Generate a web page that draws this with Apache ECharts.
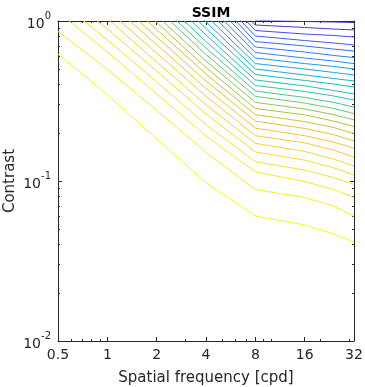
<!DOCTYPE html>
<html><head><meta charset="utf-8">
<script src="https://cdn.jsdelivr.net/npm/echarts@6/dist/echarts.min.js"></script>
<style>html,body{margin:0;padding:0;background:#fff}#c{width:365px;height:387px}</style>
</head><body><div id="c"></div>
<script>
// Spatial frequencies (cpd) at which each contour line is sampled
const freqs = [0.5, 1, 2, 4, 8, 16, 24, 32];
// Axis ticks
const xTicks = [0.5, 1, 2, 4, 8, 16, 32];
const xMinorTicks = [0.6, 0.7, 0.8, 0.9, 3, 5, 6, 7, 9, 10, 20, 30];
const yTicks = [0.01, 0.1, 1];
const yTickExponents = ['-2', '-1', '0'];
const yMinorTicks = [0.02, 0.03, 0.04, 0.05, 0.06, 0.07, 0.08, 0.09, 0.2, 0.3, 0.4, 0.5, 0.6, 0.7, 0.8, 0.9];
// Contour lines (contrast at each frequency), lowest (yellow) to highest (blue)
const contour01 = [0.622, 0.345, 0.183, 0.0972, 0.0604, 0.0531, 0.0466, 0.0416];
const contour02 = [0.860, 0.498, 0.276, 0.151, 0.0885, 0.0788, 0.0698, 0.0600];
const contour03 = [1.14, 0.640, 0.350, 0.191, 0.114, 0.0993, 0.0885, 0.0788];
const contour04 = [1.35, 0.761, 0.416, 0.225, 0.132, 0.117, 0.105, 0.0951];
const contour05 = [1.58, 0.891, 0.487, 0.262, 0.152, 0.135, 0.121, 0.109];
const contour06 = [1.86, 1.03, 0.554, 0.299, 0.172, 0.153, 0.137, 0.124];
const contour07 = [2.11, 1.17, 0.631, 0.338, 0.192, 0.173, 0.156, 0.141];
const contour08 = [2.39, 1.32, 0.713, 0.379, 0.214, 0.192, 0.175, 0.160];
const contour09 = [2.68, 1.49, 0.794, 0.422, 0.237, 0.213, 0.195, 0.178];
const contour10 = [3.05, 1.67, 0.885, 0.467, 0.260, 0.235, 0.216, 0.198];
const contour11 = [3.37, 1.84, 0.979, 0.512, 0.284, 0.259, 0.237, 0.219];
const contour12 = [3.76, 2.05, 1.08, 0.562, 0.310, 0.282, 0.260, 0.241];
const contour13 = [4.25, 2.29, 1.20, 0.617, 0.338, 0.307, 0.284, 0.264];
const contour14 = [4.66, 2.51, 1.31, 0.678, 0.365, 0.333, 0.310, 0.290];
const contour15 = [5.35, 2.84, 1.46, 0.744, 0.395, 0.363, 0.340, 0.321];
const contour16 = [5.87, 3.12, 1.61, 0.818, 0.428, 0.393, 0.368, 0.350];
const contour17 = [6.54, 3.47, 1.79, 0.898, 0.463, 0.425, 0.404, 0.387];
const contour18 = [7.39, 3.87, 1.97, 0.986, 0.501, 0.460, 0.437, 0.422];
const contour19 = [8.12, 4.25, 2.16, 1.08, 0.542, 0.501, 0.477, 0.460];
const contour20 = [9.04, 4.73, 2.41, 1.19, 0.587, 0.542, 0.520, 0.501];
const contour21 = [10.0, 5.23, 2.64, 1.31, 0.635, 0.587, 0.562, 0.542];
const contour22 = [10.9, 5.70, 2.90, 1.43, 0.688, 0.640, 0.609, 0.591];
const contour23 = [12.1, 6.31, 3.23, 1.57, 0.744, 0.698, 0.668, 0.649];
const contour24 = [13.1, 6.88, 3.50, 1.70, 0.806, 0.755, 0.729, 0.708];
const contour25 = [14.4, 7.55, 3.84, 1.87, 0.872, 0.829, 0.812, 0.794];
const contour26 = [15.6, 8.18, 4.16, 2.02, 0.944, 0.911, 0.891, 0.879];
const contour27 = [16.8, 8.79, 4.47, 2.18, 1.01, 0.993, 0.986, 0.979];

const contours = [contour01, contour02, contour03, contour04, contour05, contour06, contour07,
  contour08, contour09, contour10, contour11, contour12, contour13, contour14, contour15,
  contour16, contour17, contour18, contour19, contour20, contour21, contour22, contour23,
  contour24, contour25, contour26, contour27];

// parula colormap anchor colours
const parula = ['#3e26a8', '#4852f4', '#2e87f7', '#12b1d6', '#37c897', '#abc739', '#fec338', '#f5e127', '#f9fb0e'];
function hex2rgb(h) { return [1, 3, 5].map(i => parseInt(h.substr(i, 2), 16)); }
function cmap(t) {
  const n = parula.length - 1;
  const p = Math.min(Math.max(t, 0), 1) * n;
  const i = Math.min(Math.floor(p), n - 1);
  const f = p - i;
  const a = hex2rgb(parula[i]), b = hex2rgb(parula[i + 1]);
  const c = a.map((v, k) => Math.round(v + (b[k] - v) * f));
  return 'rgb(' + c.join(',') + ')';
}

const axisColor = '#262626';
const font = 'DejaVu Sans';
const N = contours.length;

const series = contours.map((arr, i) => ({
  type: 'line',
  xAxisIndex: 0,
  yAxisIndex: 0,
  data: freqs.map((f, j) => [f, arr[j]]),
  showSymbol: false,
  symbol: 'none',
  clip: true,
  silent: true,
  lineStyle: { width: 1, color: cmap(0.03 + 0.97 * (1 - i / (N - 1))) },
  z: 2
}));

function xAx(pos, ticks, len, labels, line) {
  return {
    type: 'log', logBase: 2, min: 0.5, max: 32, position: pos,
    axisLine: { show: line, lineStyle: { color: axisColor, width: 1 } },
    axisTick: { show: true, inside: true, length: len, customValues: ticks, lineStyle: { color: axisColor, width: 1 } },
    axisLabel: { show: labels, customValues: ticks, color: axisColor, fontSize: 14, fontFamily: font, margin: 7,
      formatter: v => String(+(+v).toPrecision(6)) },
    splitLine: { show: false }, minorTick: { show: false }, minorSplitLine: { show: false }
  };
}
function yAx(pos, ticks, len, labels, line) {
  return {
    type: 'log', logBase: 10, min: 0.01, max: 1, position: pos,
    axisLine: { show: line, lineStyle: { color: axisColor, width: 1 } },
    axisTick: { show: true, inside: true, length: len, customValues: ticks, lineStyle: { color: axisColor, width: 1 } },
    axisLabel: { show: labels, customValues: ticks, color: axisColor, fontFamily: font, margin: 7,
      formatter: v => {
        let best = 0;
        yTicks.forEach((t, k) => { if (Math.abs(Math.log(v / t)) < Math.abs(Math.log(v / yTicks[best]))) best = k; });
        return '{b|10}{s|' + yTickExponents[best] + '}';
      },
      rich: {
        b: { fontSize: 14, fontFamily: font, color: axisColor, lineHeight: 20, verticalAlign: 'bottom' },
        s: { fontSize: 10, fontFamily: font, color: axisColor, lineHeight: 20, verticalAlign: 'top' }
      } },
    splitLine: { show: false }, minorTick: { show: false }, minorSplitLine: { show: false }
  };
}

const xMain = xAx('bottom', xTicks, 4, true, true);
xMain.name = 'Spatial frequency [cpd]';
xMain.nameLocation = 'middle';
xMain.nameGap = 30;
xMain.nameMoveOverlap = false;
xMain.nameTextStyle = { color: axisColor, fontSize: 15, fontFamily: font };

const yMain = yAx('left', yTicks, 4, true, true);
yMain.name = 'Contrast';
yMain.nameLocation = 'middle';
yMain.nameGap = 40;
yMain.nameMoveOverlap = false;
yMain.nameTextStyle = { color: axisColor, fontSize: 15, fontFamily: font };

const option = {
  animation: false,
  backgroundColor: '#ffffff',
  title: {
    text: 'SSIM', left: 206, top: 1, textAlign: 'center',
    textStyle: { color: '#000', fontSize: 14, fontWeight: 'bold', fontFamily: font }
  },
  grid: { left: 58, right: 11, top: 21, bottom: 46, containLabel: false, outerBoundsMode: 'none' },
  xAxis: [
    xMain,
    xAx('bottom', xMinorTicks, 2, false, false),
    xAx('top', xTicks, 4, false, true),
    xAx('top', xMinorTicks, 2, false, false)
  ],
  yAxis: [
    yMain,
    yAx('left', yMinorTicks, 2, false, false),
    yAx('right', yTicks, 4, false, true),
    yAx('right', yMinorTicks, 2, false, false)
  ],
  series: series
};

const chart = echarts.init(document.getElementById('c'), null, { renderer: 'canvas' });
chart.setOption(option);
</script>
</body></html>
